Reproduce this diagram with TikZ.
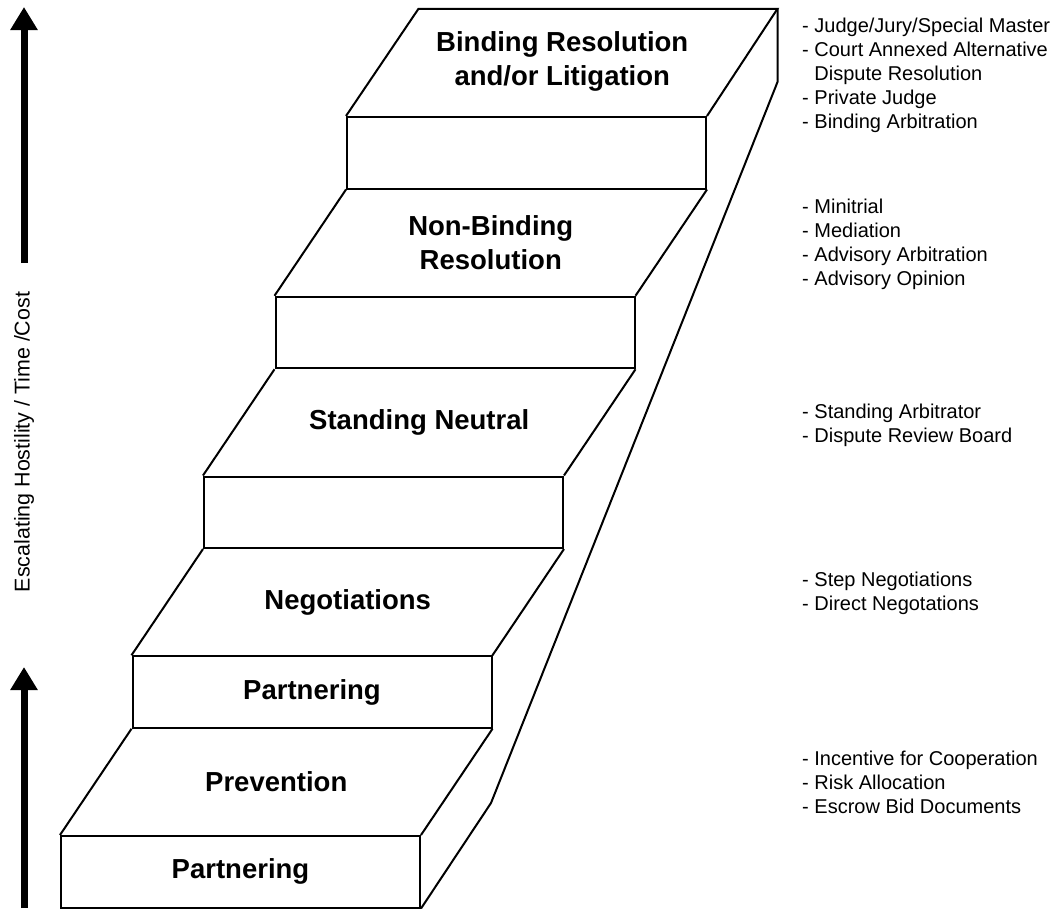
\documentclass[tikz,border=0pt]{standalone}
\usepackage{fontspec}
\setmainfont{Liberation Sans}
\usetikzlibrary{arrows.meta,calc}
\begin{document}
\begin{tikzpicture}[x=1pt,y=-1pt,
  edge/.style={line width=2pt, line join=miter},
  riser/.style={draw, line width=2pt, minimum width=359pt, minimum height=71.5pt, inner sep=0pt,
    font=\fontsize{27.5}{34}\selectfont\bfseries},
  tread/.style={font=\fontsize{27.5}{34}\selectfont\bfseries, align=center, inner sep=0pt},
  list/.style={font=\fontsize{20}{24}\selectfont, align=left, anchor=base west, inner sep=0pt},
  bigarrow/.style={line width=7pt, -{Triangle[length=23pt,width=26pt]}},
]
\useasboundingbox (0,0) rectangle (1056,908);

% risers (front faces)
\node[riser] (r0) at (240.5,871.75) {Partnering};
\node[riser] (r1) at (312,692) {Partnering};
\node[riser] (r2) at (383.5,512.25) {};
\node[riser] (r3) at (455,332.5) {};
\node[riser] (r4) at (526.5,152.75) {};

% top tread and side
\coordinate (tl) at (418.5,8.75);
\coordinate (tr) at (777.5,8.75);
\coordinate (s1) at (491,803);
\coordinate (s2) at (777.5,82);

% tread edges
\draw[edge] (r0.north west) -- (r1.south west);
\draw[edge] (r0.north east) -- (r1.south east);
\draw[edge] (r1.north west) -- (r2.south west);
\draw[edge] (r1.north east) -- (r2.south east);
\draw[edge] (r2.north west) -- (r3.south west);
\draw[edge] (r2.north east) -- (r3.south east);
\draw[edge] (r3.north west) -- (r4.south west);
\draw[edge] (r3.north east) -- (r4.south east);
\draw[edge] (r4.north west) -- (tl) -- (tr) -- (r4.north east);
\draw[edge] (r0.south east) -- (s1) -- (s2) -- (tr);

% tread labels
\path (r0.north) -- (r1.south) node[midway, tread] (t0) {Prevention};
\path (r1.north) -- (r2.south) node[midway, tread] (t1) {Negotiations};
\path (r2.north) -- (r3.south) node[midway, tread] (t2) {Standing Neutral};
\path (r3.north) -- (r4.south) node[midway, tread] (t3) {Non-Binding\\Resolution};
\path (r4.north) -- ($(r4.north)+(71.5,-108.25)$) node[midway, tread] (t4) {Binding Resolution\\and/or Litigation};

% lists (anchored at the baseline of their last line)
\node[list] (l4) at (802,128) {- Judge/Jury/Special Master\\- Court Annexed Alternative\\\hphantom{- }Dispute Resolution\\- Private Judge\\- Binding Arbitration};
\node[list] (l3) at (802,285) {- Minitrial\\- Mediation\\- Advisory Arbitration\\- Advisory Opinion};
\node[list] (l2) at (802,442) {- Standing Arbitrator\\- Dispute Review Board};
\node[list] (l1) at (802,610) {- Step Negotiations\\- Direct Negotations};
\node[list] (l0) at (802,813) {- Incentive for Cooperation\\- Risk Allocation\\- Escrow Bid Documents};

% left axis
\coordinate (a1s) at (24,263);
\coordinate (a1e) at (24,7);
\coordinate (a2s) at (24,908);
\coordinate (a2e) at (24,667);
\draw[bigarrow] (a1s) -- (a1e);
\draw[bigarrow] (a2s) -- (a2e);
\node[rotate=90, font=\fontsize{21.4}{24}\selectfont, inner sep=0pt] (lab) at (24,442) {Escalating Hostility / Time /Cost};
\end{tikzpicture}
\end{document}
